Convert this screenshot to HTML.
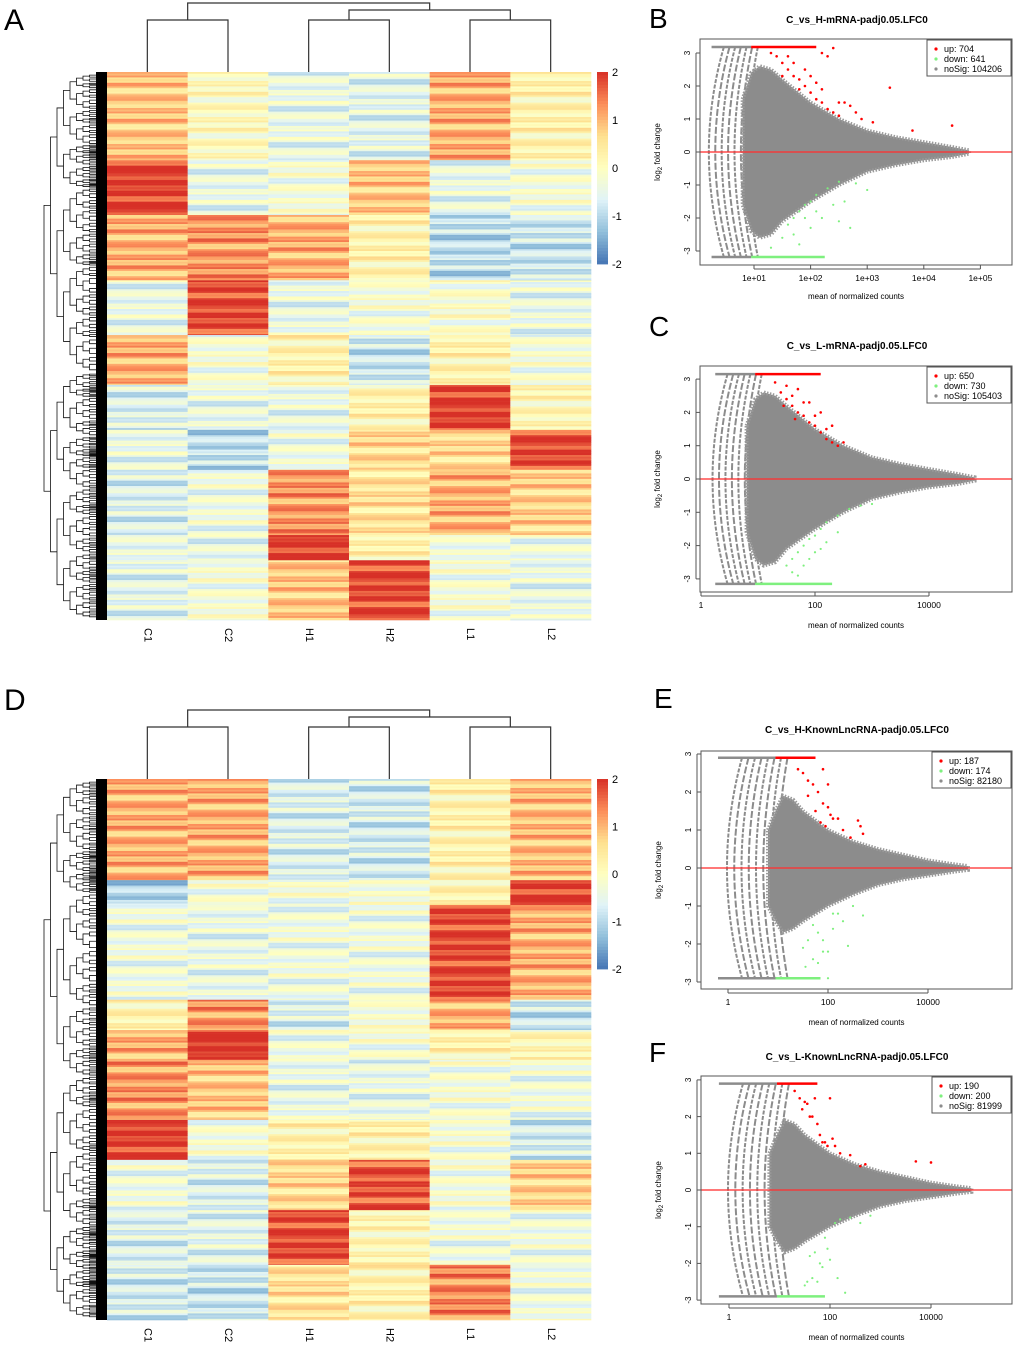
<!DOCTYPE html>
<html><head><meta charset="utf-8">
<style>
html,body{margin:0;padding:0;background:#fff;}
svg{display:block;font-family:"Liberation Sans",Arial,sans-serif;}
</style></head>
<body>
<svg id="fig" width="1020" height="1345" viewBox="0 0 1020 1345" xmlns="http://www.w3.org/2000/svg">
<rect width="1020" height="1345" fill="#fff"/>
<text x="4" y="30" font-size="30">A</text>
<text x="649" y="28" font-size="28">B</text>
<text x="649" y="336" font-size="28">C</text>
<text x="4" y="710" font-size="30">D</text>
<text x="654" y="708" font-size="28">E</text>
<text x="649" y="1062" font-size="28">F</text>
</svg>
<script>
// ---------- Heatmap data ----------
const sampleNames = ["C1","C2","H1","H2","L1","L2"];
const rowBreaksA = [0,161,261,380,480,571,653,726,845,891,1000];
const colC1A = [0.8, 1.9, 1.0, -0.5, 1.0, -0.7, -0.5, -0.7, -0.5, -0.6];
const colC2A = [0.0, -0.5, 1.2, 1.8, -0.3, -0.5, -1.0, -0.4, -0.5, -0.3];
const colH1A = [-0.5, -0.3, 1.0, -0.5, 0.2, -0.5, -0.4, 1.2, 2.0, 0.8];
const colH2A = [-0.6, 0.8, 0.2, -0.3, -0.9, 0.2, 0.6, 0.5, 0.2, 1.8];
const colL1A = [1.0, -0.5, -1.0, -0.2, 0.2, 1.9, 0.6, 1.0, -0.4, -0.3];
const colL2A = [0.2, -0.3, -0.9, -0.5, -0.3, 0.1, 1.8, 0.7, -0.4, -0.5];
const rowBreaksD = [0,187,233,408,464,519,630,704,797,898,1000];
const colC1D = [1.0, -1.1, -0.4, 0.2, 1.0, 1.2, 1.9, -0.4, -0.7, -0.8];
const colC2D = [1.0, -0.3, -0.5, 1.2, 2.0, 0.8, -0.3, -0.7, -0.6, -0.9];
const colH1D = [-0.7, -0.3, -0.4, -0.7, -0.4, -0.5, 0.2, 0.6, 1.8, 0.5];
const colH2D = [-0.8, -0.3, -0.4, -0.3, -0.3, -0.5, 0.2, 1.7, 0.1, 0.2];
const colL1D = [0.2, 0.2, 1.8, 1.0, 0.2, -0.3, -0.3, -0.3, -0.4, 1.3];
const colL2D = [0.9, 1.9, 1.0, -0.9, 0.1, -0.4, -0.8, 0.7, -0.4, -0.4];
const stripeTexture = [0.35,-0.25,0.6,-0.5,0.1,0.45,-0.35,0.2,-0.1,0.55,-0.45,0.3,0,-0.3,0.5,-0.2,0.15,-0.55,0.4,-0.05];
const legendTicks = [2,1,0,-1,-2];

// ---------- MA plot data ----------
const upB_x=[1.3,1.4,1.5,1.6,1.7,1.8,1.9,2.0,2.1,2.2,2.3,2.4,2.5,1.5,1.7,1.9,2.1,2.3,2.5,2.7,2.9,3.1,3.4,3.8,4.5,2.2,2.4,1.6,1.8,2.0,2.2,2.6,2.8];
const upB_y=[3.0,2.9,2.7,2.5,2.3,2.2,2.0,1.8,1.6,1.5,1.3,1.2,1.1,2.3,2.7,2.5,2.1,2.9,1.5,1.4,1.0,0.9,1.95,0.65,0.8,3.0,3.15,2.9,1.9,2.3,1.9,1.5,1.2];
const downB_x=[1.6,1.7,1.8,1.9,2.0,2.1,2.3,2.5,2.8,3.0,1.5,1.7,2.0,2.2,2.5,2.7,1.8,2.4,2.6,1.3,1.9,2.1];
const downB_y=[-2.2,-2.0,-1.8,-1.6,-1.5,-1.3,-1.1,-0.9,-0.95,-1.15,-2.6,-2.5,-2.3,-2.0,-2.1,-2.3,-2.8,-1.6,-1.5,-2.9,-2.0,-1.8];
const upC_x=[1.3,1.4,1.5,1.6,1.7,1.8,1.9,2.0,2.1,2.2,2.3,2.4,1.5,1.7,1.9,2.1,2.3,2.5,1.6,1.8,2.0,2.2,1.45,1.65];
const upC_y=[2.9,2.6,2.4,2.2,2.0,1.9,1.7,1.6,1.4,1.2,1.1,1.0,2.8,2.7,2.3,2.0,1.6,1.1,2.5,2.3,1.9,1.5,2.2,1.8];
const downC_x=[1.5,1.6,1.7,1.8,1.9,2.0,2.1,2.2,2.4,2.6,2.8,3.0,1.6,1.8,2.0,2.2,2.4,1.7,1.9,2.1];
const downC_y=[-2.6,-2.4,-2.2,-2.0,-1.8,-1.7,-1.5,-1.3,-1.1,-0.9,-0.8,-0.75,-2.8,-2.6,-2.2,-1.9,-1.6,-2.9,-2.4,-2.1];
const upE_x=[1.4,1.5,1.6,1.7,1.8,1.9,2.0,2.1,1.6,1.75,1.85,1.95,2.05,2.2,2.3,2.45,2.6,2.65,2.7,1.9,2.0];
const upE_y=[2.6,2.5,2.3,2.2,2.0,1.7,1.6,1.3,1.9,1.5,1.2,1.1,1.4,1.3,1.0,0.8,1.25,1.1,0.9,2.6,2.2];
const downE_x=[1.5,1.6,1.7,1.8,1.9,2.0,2.1,2.2,2.3,2.5,2.7,1.7,1.8,1.9,2.0,2.1,2.4,1.55];
const downE_y=[-2.1,-1.9,-1.5,-1.7,-2.2,-2.2,-1.2,-1.2,-1.4,-1.0,-1.25,-2.4,-2.5,-1.9,-2.9,-1.6,-2.05,-2.6];
const upF_x=[1.3,1.4,1.5,1.6,1.7,1.8,1.9,2.0,1.45,1.65,1.75,1.85,1.95,2.05,2.1,2.2,2.4,2.6,2.7,3.7,4.0,1.55];
const upF_y=[2.7,2.5,2.4,2.0,2.5,1.5,1.3,2.5,2.2,2.0,1.8,1.3,1.2,1.4,1.2,1.0,0.95,0.65,0.7,0.78,0.75,2.35];
const downF_x=[1.5,1.6,1.7,1.8,1.9,2.0,2.1,2.2,2.4,2.6,2.8,1.65,1.75,1.85,1.95,2.15,2.3,1.55];
const downF_y=[-2.6,-1.8,-1.7,-2.0,-1.3,-1.9,-0.9,-0.8,-0.75,-0.9,-0.7,-2.4,-2.5,-2.1,-1.6,-2.4,-2.8,-2.5];
// cloud envelopes (log10 mean, log2FC)
const cloudUpX=[0.8,0.95,1.1,1.3,1.5,2.0,2.5,3.0,3.5,4.0,4.5,4.8];
const cloudUpY=[1.6,2.4,2.6,2.5,2.2,1.5,1.0,0.65,0.45,0.3,0.15,0.05];
const cloudLoY=[-1.6,-2.4,-2.6,-2.5,-2.1,-1.5,-1.0,-0.6,-0.4,-0.25,-0.15,-0.05];
const cloudUpYLnc=[1.0,1.5,1.9,1.8,1.5,1.0,0.7,0.5,0.35,0.2,0.1,0.05];
const cloudLoYLnc=[-1.0,-1.4,-1.7,-1.6,-1.4,-1.0,-0.7,-0.45,-0.3,-0.2,-0.1,-0.05];

const NS="http://www.w3.org/2000/svg";
const svg=document.getElementById("fig");
function mk(tag,attrs,parent){const e=document.createElementNS(NS,tag);for(const k in attrs)e.setAttribute(k,attrs[k]);(parent||svg).appendChild(e);return e;}

const pal=[[69,117,180],[145,191,219],[224,243,248],[255,255,191],[254,224,144],[252,141,89],[215,48,39]];
function col(v){v=Math.max(-2,Math.min(2,v));const t=(v+2)/4*6;const i=Math.min(5,Math.floor(t));const f=t-i;const a=pal[i],b=pal[i+1];
 return "rgb("+[0,1,2].map(k=>Math.round(a[k]+(b[k]-a[k])*f)).join(",")+")";}

function heatmap(name,top,bottom,breaks,cols,offsetY){
 const g=mk("g",{});
 
 
 const left=107,right=591,cw=(right-left)/6,H=bottom-top;
 const ys=v=>top+v/1000*H;
 const stripe=1.8;
 cols.forEach((arr,ci)=>{
  for(let b=0;b<arr.length;b++){
   const y0=ys(breaks[b]),y1=ys(breaks[b+1]);
   let i=0;
   for(let y=y0;y<y1;y+=stripe,i++){
    const v=arr[b]+stripeTexture[(i*7+ci*5+b*3)%stripeTexture.length]*0.9;
    const r=mk("rect",{x:(left+ci*cw).toFixed(2),y:y.toFixed(2),width:(cw+0.3).toFixed(2),height:(Math.min(stripe,y1-y)+0.3).toFixed(2),fill:col(v)},g);
    
    
   }
  }
 });
 sampleNames.forEach((s,ci)=>{
  const x=left+ci*cw+cw/2, y=bottom+8;
  const t=mk("text",{x:x,y:y,"font-size":"11",transform:`rotate(90 ${x} ${y})`,"dominant-baseline":"middle"},g);
  t.textContent=s;
  
  
 });
 const cx=i=>left+i*cw+cw/2;
 const dt=offsetY;
 const dg=mk("g",{stroke:"#333","stroke-width":"1.2",fill:"none"},g);
 
 
 const p=`M${cx(0)},${top} V${dt+20} H${cx(1)} V${top} M${cx(2)},${top} V${dt+20} H${cx(3)} V${top} M${cx(4)},${top} V${dt+20} H${cx(5)} V${top}
 M${(cx(2)+cx(3))/2},${dt+20} V${dt+10} H${(cx(4)+cx(5))/2} V${dt+20} M${(cx(0)+cx(1))/2},${dt+20} V${dt+3} H${(cx(2)+cx(3)+cx(4)+cx(5))/4} V${dt+10}`;
 mk("path",{d:p},dg);
 const rg=mk("g",{stroke:"#111","stroke-width":"0.8",fill:"none"},g);
 
 
 let d="";
 function node(y0,y1,depth){
  const x=44+depth*6.5;
  if(depth>=8){return {y:(y0+y1)/2,x:x};}
  const s=[0.5,0.42,0.58,0.47,0.55,0.38,0.62][(depth+Math.round(y0))%7];
  const ym=y0+(y1-y0)*s;
  const a=node(y0,ym,depth+1),b=node(ym,y1,depth+1);
  d+=`M${a.x},${a.y}H${x}V${b.y}H${b.x}`;
  return {y:(a.y+b.y)/2,x:x};
 }
 node(top+2,bottom-2,0);
 mk("path",{d:d},rg);
 mk("rect",{x:96,y:top,width:11,height:H,fill:"#000"},g);
}
heatmap("heatmap-a",72,620,rowBreaksA,[colC1A,colC2A,colH1A,colH2A,colL1A,colL2A],0);
heatmap("heatmap-d",779,1320,rowBreaksD,[colC1D,colC2D,colH1D,colH2D,colL1D,colL2D],707);

function colorbar(name,top,bottom){
 const g=mk("g",{});
 
 
 const n=60,h=(bottom-top)/n;
 for(let i=0;i<n;i++){mk("rect",{x:597,y:top+i*h,width:11,height:h+0.4,fill:col(2-4*(i+0.5)/n)},g);}
 legendTicks.forEach(v=>{const t=mk("text",{x:612,y:top+(2-v)/4*(bottom-top)+4,"font-size":"11"},g);t.textContent=v;
  });
}
colorbar("colorbar-a",72,264);
colorbar("colorbar-d",779,969);

function maPlot(c){
 const g=mk("g",{});
 
 
 const X=l=>c.x0+l*c.dec, Y=v=>c.y0-v*c.unit;
 // arcs
 for(let k=0;k<c.arcs;k++){
  const xs=X(c.arcStart+k*c.arcStep), xm=xs-10+k*1.5;
  mk("path",{d:`M${xs+14},${Y(c.sat)} Q${xm-6},${Y(0)} ${xs+14},${Y(-c.sat)}`,fill:"none",stroke:"#8c8c8c","stroke-width":"2","stroke-dasharray":k%2?"7 2":"4 1.5"},g);
 }
 let pts=cloudUpX.map((l,i)=>X(l)+","+Y(c.cu[i]));
 pts=pts.concat(cloudUpX.slice().reverse().map((l,i)=>X(l)+","+Y(c.cl[cloudUpX.length-1-i])));
 const cl=mk("polygon",{points:pts.join(" "),fill:"#8c8c8c",stroke:"#9a9a9a","stroke-width":"4","stroke-dasharray":"1.5 1.5"},g);
 
 
 mk("line",{x1:X(c.satStart),x2:X(0.95),y1:Y(c.sat),y2:Y(c.sat),stroke:"#8c8c8c","stroke-width":"2.5"},g);
 mk("line",{x1:X(c.satStart),x2:X(0.95),y1:Y(-c.sat),y2:Y(-c.sat),stroke:"#8c8c8c","stroke-width":"2.5"},g);
 mk("line",{x1:X(0.95),x2:X(c.redEnd),y1:Y(c.sat),y2:Y(c.sat),stroke:"#ff0000","stroke-width":"2.5"},g);
 mk("line",{x1:X(0.95),x2:X(c.greenEnd),y1:Y(-c.sat),y2:Y(-c.sat),stroke:"#7ef07e","stroke-width":"2.5"},g);
 c.ux.forEach((l,i)=>{const p=mk("circle",{cx:X(l),cy:Y(c.uy[i]),r:1.3,fill:"#ff0000"},g);});
 c.dx.forEach((l,i)=>{const p=mk("circle",{cx:X(l),cy:Y(c.dy[i]),r:1.1,fill:"#7ef07e"},g);});
 mk("line",{x1:c.bx0,x2:c.bx1,y1:Y(0),y2:Y(0),stroke:"#ff3030","stroke-width":"1.8","stroke-opacity":"0.75"},g);
 mk("rect",{x:c.bx0,y:c.by0,width:c.bx1-c.bx0,height:c.by1-c.by0,fill:"none",stroke:"#555","stroke-width":"1"},g);
 [-3,-2,-1,0,1,2,3].forEach(v=>{mk("line",{x1:c.bx0-4,x2:c.bx0,y1:Y(v),y2:Y(v),stroke:"#555"},g);
  const t=mk("text",{x:c.bx0-10,y:Y(v),"font-size":"8","text-anchor":"middle",transform:`rotate(-90 ${c.bx0-10} ${Y(v)})`},g);t.textContent=v;
  });
 mk("line",{x1:c.bx0-4,x2:c.bx0-4,y1:Y(3),y2:Y(-3),stroke:"#555"},g);
 c.xt.forEach((v,i)=>{mk("line",{x1:X(v),x2:X(v),y1:c.by1,y2:c.by1+4,stroke:"#555"},g);
  const t=mk("text",{x:X(v),y:c.by1+16,"font-size":"8.5","text-anchor":"middle"},g);t.textContent=c.xl[i];
  });
 mk("line",{x1:X(c.xt[0]),x2:X(c.xt[c.xt.length-1]),y1:c.by1+4,y2:c.by1+4,stroke:"#555"},g);
 const xl=mk("text",{x:(c.bx0+c.bx1)/2,y:c.xlabY,"font-size":"8","text-anchor":"middle"},g);xl.textContent="mean of normalized counts";
 
 const yx=c.bx0-40, yy=(c.by0+c.by1)/2;
 const yl=mk("text",{x:yx,y:yy,"font-size":"8","text-anchor":"middle",transform:`rotate(-90 ${yx} ${yy})`},g);
 yl.innerHTML='log<tspan font-size="6" dy="2">2</tspan><tspan dy="-2"> fold change</tspan>';
 
 const tt=mk("text",{x:857,y:c.titleY,"font-size":"10","font-weight":"bold","text-anchor":"middle"},g);tt.textContent=c.title;
 
 const lg=mk("g",{},g);
 
 const lx=c.bx1-c.lw;
 mk("rect",{x:lx,y:c.by0+1,width:c.lw-1,height:36,fill:"#fff",stroke:"#555"},lg);
 [["#ff0000",c.l1],["#7ef07e",c.l2],["#8c8c8c",c.l3]].forEach((e,i)=>{
  mk("circle",{cx:lx+9,cy:c.by0+10+i*10,r:1.6,fill:e[0]},lg);
  const t=mk("text",{x:lx+17,y:c.by0+13+i*10,"font-size":"9"},lg);t.textContent=e[1];
  
 });
}
maPlot({name:"ma-plot-b",bx0:700,bx1:1012,by0:39,by1:265,x0:754-56.6,dec:56.6,y0:152,unit:33,sat:3.18,satStart:0.25,redEnd:2.1,greenEnd:2.25,arcs:7,arcStart:0.22,arcStep:0.1,
 cu:cloudUpY,cl:cloudLoY,ux:upB_x,uy:upB_y,dx:downB_x,dy:downB_y,xt:[1,2,3,4,5],xl:["1e+01","1e+02","1e+03","1e+04","1e+05"],xlabY:299,titleY:23,
 title:"C_vs_H-mRNA-padj0.05.LFC0",l1:"up: 704",l2:"down: 641",l3:"noSig: 104206",lw:85});
maPlot({name:"ma-plot-c",bx0:700,bx1:1012,by0:366,by1:592,x0:701,dec:57,y0:479,unit:33.3,sat:3.15,satStart:0.25,redEnd:2.1,greenEnd:2.3,arcs:7,arcStart:0.22,arcStep:0.1,
 cu:cloudUpY,cl:cloudLoY,ux:upC_x,uy:upC_y,dx:downC_x,dy:downC_y,xt:[0,2,4],xl:["1","100","10000"],xlabY:628,titleY:349,
 title:"C_vs_L-mRNA-padj0.05.LFC0",l1:"up: 650",l2:"down: 730",l3:"noSig: 105403",lw:85});
maPlot({name:"ma-plot-e",bx0:701,bx1:1012,by0:751,by1:989,x0:728,dec:50,y0:868,unit:38,sat:2.9,satStart:-0.2,redEnd:1.75,greenEnd:1.85,arcs:8,arcStart:0.0,arcStep:0.13,
 cu:cloudUpYLnc,cl:cloudLoYLnc,ux:upE_x,uy:upE_y,dx:downE_x,dy:downE_y,xt:[0,2,4],xl:["1","100","10000"],xlabY:1025,titleY:733,
 title:"C_vs_H-KnownLncRNA-padj0.05.LFC0",l1:"up: 187",l2:"down: 174",l3:"noSig: 82180",lw:80});
maPlot({name:"ma-plot-f",bx0:701,bx1:1012,by0:1076,by1:1304,x0:729,dec:50.5,y0:1190,unit:36.7,sat:2.9,satStart:-0.2,redEnd:1.75,greenEnd:1.9,arcs:8,arcStart:0.0,arcStep:0.13,
 cu:cloudUpYLnc,cl:cloudLoYLnc,ux:upF_x,uy:upF_y,dx:downF_x,dy:downF_y,xt:[0,2,4],xl:["1","100","10000"],xlabY:1340,titleY:1060,
 title:"C_vs_L-KnownLncRNA-padj0.05.LFC0",l1:"up: 190",l2:"down: 200",l3:"noSig: 81999",lw:80});
</script>
</body></html>
